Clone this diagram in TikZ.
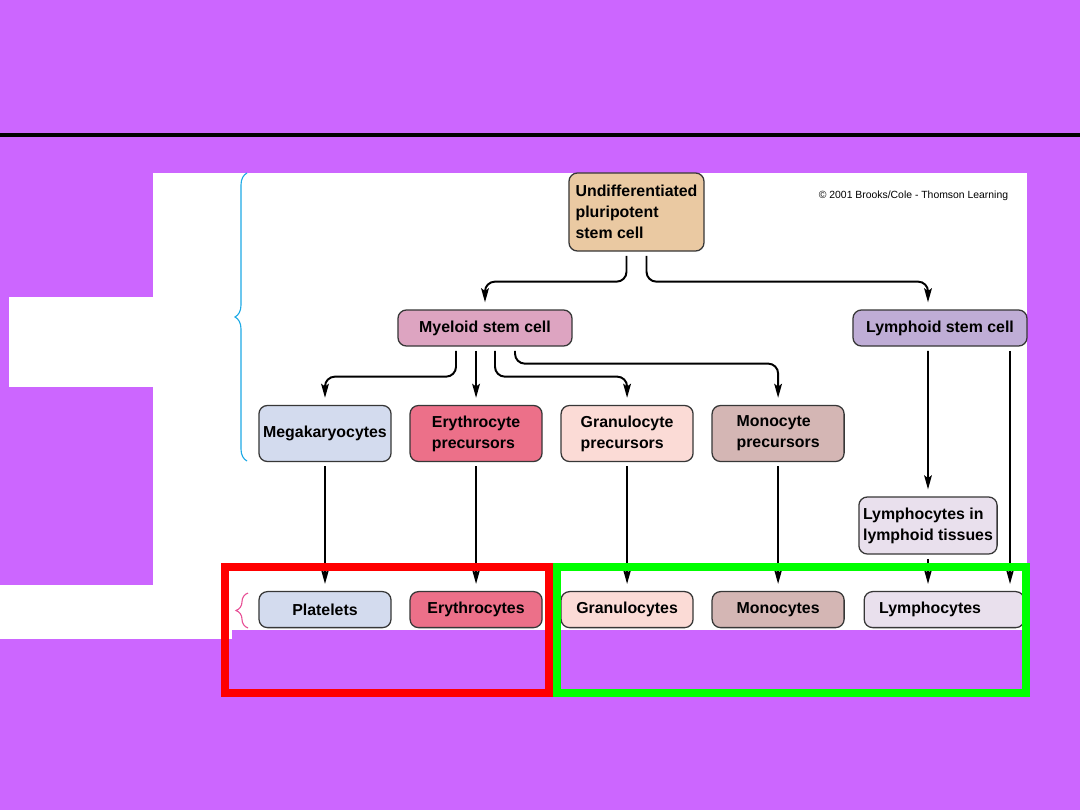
\documentclass[tikz,border=0pt]{standalone}
\usepackage{fontspec}
\setmainfont{Liberation Sans}
\usepackage{xcolor}
\usetikzlibrary{arrows.meta, positioning, decorations.pathreplacing}
\definecolor{slide}{RGB}{204,102,255}
\definecolor{cellline}{RGB}{55,55,55}
\definecolor{stemtan}{RGB}{234,201,162}
\definecolor{myeloidpink}{RGB}{221,164,193}
\definecolor{lymphoidlilac}{RGB}{191,173,214}
\definecolor{megablue}{RGB}{211,219,238}
\definecolor{eryred}{RGB}{236,112,137}
\definecolor{granpink}{RGB}{251,219,214}
\definecolor{monobrown}{RGB}{212,182,180}
\definecolor{lymphpale}{RGB}{233,224,237}
\definecolor{bracecyan}{RGB}{30,170,230}
\definecolor{bracepink}{RGB}{232,80,150}

\begin{document}
\begin{tikzpicture}[
  x=0.025cm, y=-0.025cm,
  cell/.style={rectangle, rounded corners=6pt, draw=cellline, line width=0.9pt,
               align=left, inner xsep=3pt, minimum width=3.3cm,
               font=\fontsize{11.3}{15}\selectfont\bfseries},
  stem/.style={cell, minimum width=4.35cm, minimum height=0.9cm},
  mid/.style={cell, minimum height=1.4cm},
  mature/.style={cell, minimum height=0.9cm},
  arr/.style={-{Stealth[length=10pt, width=5.5pt, inset=2pt]}, line width=1.4pt,
              rounded corners=7pt, shorten <=3pt, shorten >=5pt},
  frame/.style={line width=5.7pt},
  node distance=0.443cm and 0.443cm
]
  \useasboundingbox (0,0) rectangle (1080,810);
  \fill[slide] (0,0) rectangle (1080,810);
  \fill[white] (153,173) rectangle (1027,630);
  \fill[white] (9,297) rectangle (153,387);
  \fill[white] (0,585) rectangle (232,639);
  \draw[line width=2.8pt] (0,135) -- (1080,135);

  % stem cells
  \node[cell, fill=stemtan, minimum width=3.375cm, minimum height=1.95cm] (undiff) at (636.5,212)
    {Undifferentiated\\pluripotent\\stem cell};
  \node[stem, fill=myeloidpink] (myeloid) at (485,328) {Myeloid stem cell};
  \node[stem, fill=lymphoidlilac] (lymphoid) at (940,328) {Lymphoid stem cell};
  \node[font=\fontsize{7.4}{9}\selectfont] (copy) at (913.5,196) {\textcopyright\ 2001 Brooks/Cole - Thomson Learning};

  % precursors
  \node[mid, fill=megablue] (mega) at (325,433.5) {Megakaryocytes};
  \node[mid, fill=eryred, right=of mega] (eryp) {Erythrocyte\\precursors};
  \node[mid, fill=granpink, right=of eryp] (granp) {Granulocyte\\precursors};
  \node[mid, fill=monobrown, right=of granp] (monop) {Monocyte\\precursors};
  \node[cell, fill=lymphpale, minimum width=3.25cm, minimum height=1.425cm] (lymtis) at (928,525.5)
    {Lymphocytes in\\lymphoid tissues};

  % mature cells
  \node[mature, fill=megablue, below=3.22cm of mega] (plat) {\hfil Platelets\hfil};
  \node[mature, fill=eryred, below=3.22cm of eryp] (ery) {\hfil Erythrocytes\hfil};
  \node[mature, fill=granpink, below=3.22cm of granp] (gran) {\hfil Granulocytes\hfil};
  \node[mature, fill=monobrown, below=3.22cm of monop] (mono) {\hfil Monocytes\hfil};
  \node[mature, fill=lymphpale, text width=3.25cm, inner xsep=0.375cm,
        right=0.47cm of mono] (lym) {Lymphocytes};

  % connectors
  \draw[arr] ([xshift=-0.25cm]undiff.south) -- ++(0,30) -| (myeloid.north);
  \draw[arr] ([xshift=0.25cm]undiff.south) -- ++(0,30) -| ([xshift=-0.3cm]lymphoid.north);
  \draw[arr] ([xshift=-0.725cm]myeloid.south) -- ++(0,30) -| (mega.north);
  \draw[arr] (myeloid.south -| eryp.north) -- (eryp.north);
  \draw[arr] ([xshift=0.25cm]myeloid.south) -- ++(0,30) -| (granp.north);
  \draw[arr] ([xshift=0.75cm]myeloid.south) -- ++(0,17) -| (monop.north);
  \foreach \from/\to in {mega/plat, eryp/ery, granp/gran, monop/mono}
    \draw[arr] (\from.south) -- (\to.north);
  \draw[arr, line width=1.1pt] ([xshift=-0.3cm]lymphoid.south) -- (lymtis.north);
  \draw[arr, line width=1.1pt] (lymtis.south) -- (lymtis.south |- lym.north);
  \coordinate (lymright) at ([xshift=1.75cm]lymphoid.south);
  \draw[arr, line width=1.1pt] (lymright) -- (lymright |- lym.north);

  % braces
  \coordinate (bluebot) at (247,461);
  \coordinate (bluetop) at (247,173);
  \draw[bracecyan, line width=0.8pt, decorate, decoration={brace, amplitude=0.3cm}] (bluebot) -- (bluetop);
  \coordinate (pinkbot) at (248,628);
  \coordinate (pinktop) at (248,593);
  \draw[bracepink, line width=0.8pt, decorate, decoration={brace, amplitude=0.3cm}] (pinkbot) -- (pinktop);

  % highlight frames
  \draw[frame, red] (225,567) rectangle (549,693);
  \draw[frame, green] (557,567) rectangle (1026,693);
\end{tikzpicture}
\end{document}
